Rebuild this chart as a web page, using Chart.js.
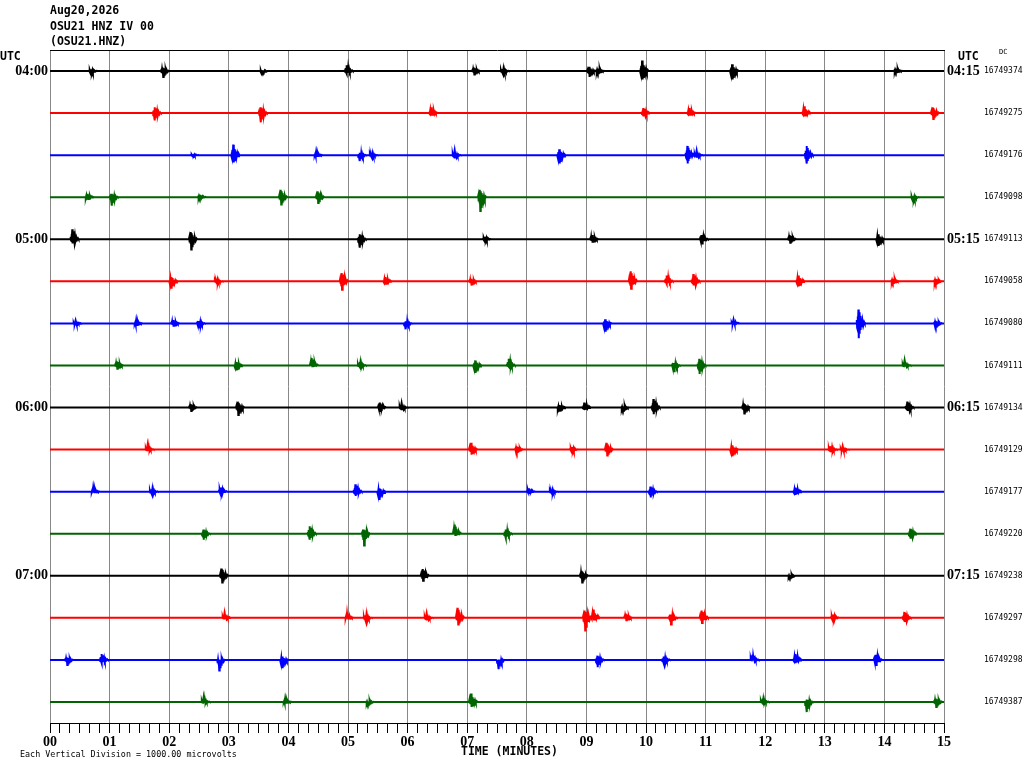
<!DOCTYPE html>
<html lang="en">
<head>
  <meta charset="UTF-8" />
  <title>OSU21 HNZ IV 00</title>
  <script src="https://cdn.jsdelivr.net/npm/chart.js"></script>
  <style>
    body { margin: 0; background: #fff; }
    #wrap { position: relative; width: 1024px; height: 768px; overflow: hidden; }
    #box { position: absolute; left: 0; top: 0; width: 1024px; height: 768px; }
    .t { position: absolute; font-family: 'DejaVu Sans Mono', monospace; font-weight: bold;
         font-size: 11.5px; line-height: 1; color: #000; white-space: pre; }
    .s { font-weight: normal; font-size: 8.4px; }
  </style>
</head>
<body>
  <div id="wrap">
    <div id="box"><canvas id="chart"></canvas></div>
    <div class="t" style="left:50px;top:5px">Aug20,2026</div>
    <div class="t" style="left:50px;top:21px">OSU21 HNZ IV 00</div>
    <div class="t" style="left:50px;top:36px">(OSU21.HNZ)</div>
    <div class="t" style="left:0px;top:51px">UTC</div>
    <div class="t" style="left:958px;top:51px">UTC</div>
    <div class="t s" style="left:999px;top:49px;font-size:7px">DC</div>
    <div class="t" style="left:461px;top:746px">TIME (MINUTES)</div>
    <div class="t s" style="left:20px;top:750px">Each Vertical Division = 1000.00 microvolts</div>
  </div>

  <script>
    // one row per 15 minutes; bursts are [minute, peak up µV, peak down µV]
    const r0400 = [[0.69,40,60],[1.90,80,140],[3.56,20,80],[4.98,140,60],[7.12,80,80],[7.6,50,60],[9.05,100,140],[9.2,60,50],[9.94,250,200],[11.45,160,200],[14.2,60,30]];
    const r0415 = [[1.76,140,175],[3.54,140,220],[6.4,140,60],[9.96,120,80],[10.73,120,60],[12.66,160,80],[14.82,140,140]];
    const r0430 = [[2.4,30,20],[3.08,250,175],[4.47,60,30],[5.2,60,140],[5.4,40,50],[6.79,60,80],[8.55,140,200],[10.7,220,200],[10.85,60,60],[12.7,215,200]];
    const r0445 = [[0.63,80,60],[1.04,80,200],[2.52,60,30],[3.88,175,175],[4.5,140,140],[7.22,175,330],[14.48,30,80]];
    const r0500 = [[0.38,240,100],[2.37,175,240],[5.2,120,200],[7.3,60,30],[9.1,100,80],[10.94,100,100],[12.42,100,80],[13.9,120,160]];
    const r0515 = [[2.04,100,175],[2.8,40,40],[4.9,200,200],[5.63,100,80],[7.07,60,100],[9.75,240,175],[10.35,140,60],[10.8,175,100],[12.56,140,120],[14.15,60,40],[14.87,60,60]];
    const r0530 = [[0.43,40,40],[1.45,50,50],[2.07,80,80],[2.5,60,100],[5.97,50,140],[9.32,100,200],[11.47,60,20],[13.57,330,350],[14.87,60,80]];
    const r0545 = [[1.13,100,80],[3.13,80,120],[4.4,175,20],[5.2,80,40],[7.14,120,175],[7.7,160,30],[10.47,60,140],[10.9,160,200],[14.34,80,30]];
    const r0600 = [[2.37,80,80],[3.16,140,175],[5.54,120,80],[5.9,60,60],[8.55,60,100],[8.97,120,60],[9.62,30,80],[10.13,200,160],[11.65,100,140],[14.39,140,80]];
    const r0615 = [[1.64,80,30],[7.07,160,120],[7.84,80,60],[8.76,60,40],[9.35,160,140],[11.45,100,160],[13.1,80,60],[13.3,50,40]];
    const r0630 = [[0.73,80,20],[1.71,60,60],[2.87,100,30],[5.13,175,100],[5.53,80,200],[8.04,80,30],[8.42,40,40],[10.08,120,140],[12.51,100,80]];
    const r0645 = [[2.58,100,140],[4.36,175,140],[5.27,100,280],[6.8,215,30],[7.65,100,100],[14.44,120,120]];
    const r0700 = [[2.89,175,160],[6.26,160,120],[8.93,120,160],[12.42,20,60]];
    const r0715 = [[2.93,80,30],[4.99,100,20],[5.3,60,80],[6.32,60,60],[6.85,240,160],[8.98,175,300],[9.12,200,60],[9.67,100,60],[10.42,80,160],[10.94,175,120],[13.14,80,40],[14.34,140,100]];
    const r0730 = [[0.29,60,120],[0.87,140,80],[2.84,10,250],[3.9,80,200],[7.53,10,220],[9.19,100,175],[10.3,80,80],[11.79,120,20],[12.51,140,80],[13.86,120,120]];
    const r0745 = [[2.58,80,30],[3.95,60,30],[5.34,20,80],[7.07,200,120],[11.96,80,30],[12.7,60,240],[14.87,80,120]];

    const rows = [r0400, r0415, r0430, r0445, r0500, r0515, r0530, r0545,
                  r0600, r0615, r0630, r0645, r0700, r0715, r0730, r0745];
    const hourLeft = ['04:00', '05:00', '06:00', '07:00'];
    const hourRight = ['04:15', '05:15', '06:15', '07:15'];
    const dcCounts = ['16749374','16749275','16749176','16749098','16749113','16749058','16749080','16749111',
                      '16749134','16749129','16749177','16749220','16749238','16749297','16749298','16749387'];
    const minuteLabels = ['00','01','02','03','04','05','06','07','08','09','10','11','12','13','14','15'];
    const traceColors = ['#000000', '#ff0000', '#0000ff', '#006400'];

    // shape of one burst drawn around its peak values
    const wave = [[-0.04,0,0],[-0.033,0.25,0],[-0.027,0,-0.3],[-0.02,0.5,0],[-0.013,0,-0.45],[-0.006,1,0],
                  [0,0,-1],[0.007,0.8,0],[0.014,0,-0.7],[0.022,0.55,0],[0.03,0,-0.45],[0.04,0.35,0],
                  [0.05,0,-0.25],[0.062,0.2,0],[0.075,0,-0.15],[0.09,0.1,0],[0.1,0,0]];

    function traceData(row, bursts) {
      const pts = [{x: 0, y: row}];
      bursts.forEach(b => {
        wave.forEach(w => {
          const amp = w[1] * b[1] + w[2] * b[2];
          pts.push({x: b[0] + w[0], y: row - amp / 1000});
        });
      });
      pts.push({x: 15, y: row});
      return pts.sort((a, b) => a.x - b.x);
    }

    const rowTicks = s => { s.ticks = rows.map((_, i) => ({value: i})); };
    const boldSerif = {family: 'Liberation Serif', weight: 'bold', size: 14};
    const noGrid = { display: false, drawTicks: false, tickLength: 0 };

    new Chart(document.getElementById('chart'), {
      type: 'scatter',
      data: {
        datasets: rows.map((b, i) => ({
          data: traceData(i, b),
          showLine: true,
          borderColor: traceColors[i % 4],
          borderWidth: 2,
          pointRadius: 0,
          tension: 0
        }))
      },
      options: {
        responsive: true,
        maintainAspectRatio: false,
        animation: false,
        layout: { padding: { top: 50 } },
        plugins: { legend: { display: false }, tooltip: { enabled: false } },
        scales: {
          x: {
            type: 'linear', position: 'bottom', min: 0, max: 15,
            afterBuildTicks: s => { s.ticks = Array.from({length: 91}, (_, k) => ({value: k / 6})); },
            afterFit: s => { s.height = 45; },
            ticks: {
              autoSkip: false, maxRotation: 0, padding: 1, color: '#000', font: boldSerif,
              callback: (v, idx) => idx % 6 === 0 ? minuteLabels[idx / 6] : ''
            },
            grid: {
              color: c => Math.abs(c.tick.value - Math.round(c.tick.value)) < 1e-6 ? '#888888' : 'rgba(0,0,0,0)',
              tickColor: '#000', tickLength: 10, lineWidth: 1
            },
            border: { color: '#000', width: 1 }
          },
          xTop: {
            type: 'linear', position: 'top', min: 0, max: 15,
            afterFit: s => { s.height = 0; },
            ticks: { display: false },
            grid: noGrid,
            border: { color: '#000', width: 1 }
          },
          y: {
            type: 'linear', position: 'left', min: -0.5, max: 15.5, reverse: true,
            afterBuildTicks: rowTicks,
            afterFit: s => { s.width = 50; },
            ticks: { padding: 2, color: '#000', font: boldSerif, callback: v => v % 4 === 0 ? hourLeft[v / 4] : '' },
            grid: noGrid,
            border: { display: false }
          },
          yTime: {
            type: 'linear', position: 'right', weight: 0, min: -0.5, max: 15.5, reverse: true,
            afterBuildTicks: rowTicks,
            afterFit: s => { s.width = 36; },
            ticks: { padding: 3, color: '#000', font: boldSerif, callback: v => v % 4 === 0 ? hourRight[v / 4] : '' },
            grid: noGrid,
            border: { display: false }
          },
          yCount: {
            type: 'linear', position: 'right', weight: 1, min: -0.5, max: 15.5, reverse: true,
            afterBuildTicks: rowTicks,
            afterFit: s => { s.width = 44; },
            ticks: { padding: 4, color: '#000', font: {family: 'DejaVu Sans Mono', size: 8}, callback: v => dcCounts[v] },
            grid: noGrid,
            border: { display: false }
          }
        }
      }
    });
  </script>
</body>
</html>
